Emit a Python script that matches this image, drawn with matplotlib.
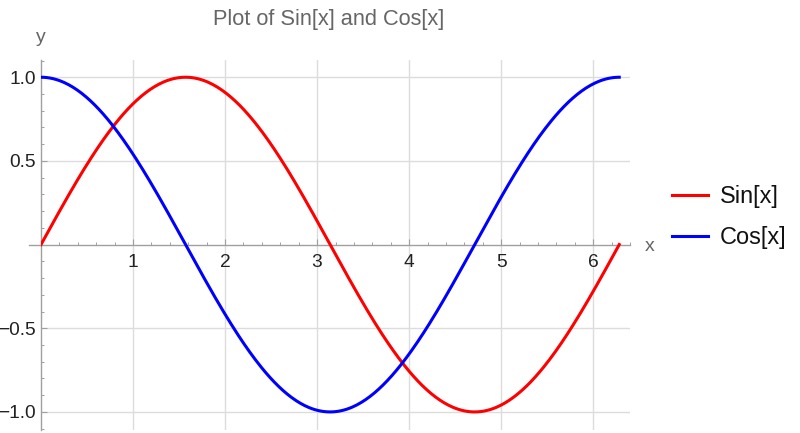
import numpy as np
import matplotlib
matplotlib.use("Agg")
import matplotlib.pyplot as plt
from matplotlib.ticker import MultipleLocator, FixedLocator

# Data
x_values = np.linspace(0, 2 * np.pi, 400)
sin_values = np.sin(x_values)
cos_values = np.cos(x_values)
series_labels = ["Sin[x]", "Cos[x]"]
series_colors = ["#ff0000", "#0000ff"]
x_ticks = [1, 2, 3, 4, 5, 6]
x_tick_labels = ["1", "2", "3", "4", "5", "6"]
y_ticks = [-1.0, -0.5, 0.5, 1.0]
y_tick_labels = ["\u22121.0", "\u22120.5", "0.5", "1.0"]

plt.rcParams['font.family'] = ['Liberation Sans', 'DejaVu Sans']

fig = plt.figure(figsize=(8, 4.33), dpi=100)
ax = fig.add_axes([41 / 800, 3 / 433, (630 - 41) / 800, (430 - 60) / 433])

ax.set_xlim(0, 6.40)
ax.set_ylim(-1.108, 1.103)

axis_color = "#a0a0a0"
grid_color = "#dcdcdc"

ax.spines['top'].set_visible(False)
ax.spines['right'].set_visible(False)
ax.spines['left'].set_position(('data', 0))
ax.spines['bottom'].set_position(('data', 0))
for s in ['left', 'bottom']:
    ax.spines[s].set_color(axis_color)
    ax.spines[s].set_linewidth(1.0)
# extend x axis a bit to the left
ax.plot([-12 / 589, 0], [0, 0], transform=ax.get_yaxis_transform(), color=axis_color,
        lw=1.0, clip_on=False, zorder=2.5)

ax.xaxis.set_major_locator(FixedLocator(x_ticks))
ax.set_xticklabels(x_tick_labels)
ax.xaxis.set_minor_locator(MultipleLocator(0.2))
ax.yaxis.set_major_locator(FixedLocator(y_ticks))
ax.set_yticklabels(y_tick_labels)
ax.yaxis.set_minor_locator(MultipleLocator(0.1))

ax.tick_params(axis='both', which='major', direction='in', length=4.0, width=0.8,
               color=axis_color, labelsize=13.8, labelcolor='#222222')
ax.tick_params(axis='both', which='minor', direction='in', length=2.2, width=0.7,
               color=axis_color)
ax.tick_params(axis='x', which='major', pad=6.5)
ax.tick_params(axis='y', which='major', pad=3.5)

for t in x_ticks:
    ax.axvline(t, color=grid_color, lw=1.0, zorder=0)
for t in y_ticks:
    ax.axhline(t, color=grid_color, lw=1.0, zorder=0)

l1, = ax.plot(x_values, sin_values, color=series_colors[0], lw=2.2, label=series_labels[0], zorder=3)
l2, = ax.plot(x_values, cos_values, color=series_colors[1], lw=2.2, label=series_labels[1], zorder=3)

fig.text(329 / 800, 1 - 25 / 433, "Plot of Sin[x] and Cos[x]", ha='center', va='baseline',
         fontsize=15.7, color='#666666')
fig.text(41 / 800, 1 - 42 / 433, "y", ha='center', va='baseline', fontsize=14, color='#666666')
fig.text(650 / 800, 1 - 251 / 433, "x", ha='center', va='baseline', fontsize=14, color='#666666')

leg = fig.legend(handles=[l1, l2], loc='center left', bbox_to_anchor=(663 / 800, 1 - 217 / 433),
                 frameon=False, fontsize=16.9, handlelength=1.53, handletextpad=0.5,
                 labelspacing=0.75, borderaxespad=0)
for t in leg.get_texts():
    t.set_color('#111111')

fig.savefig("out.png", dpi=100)
